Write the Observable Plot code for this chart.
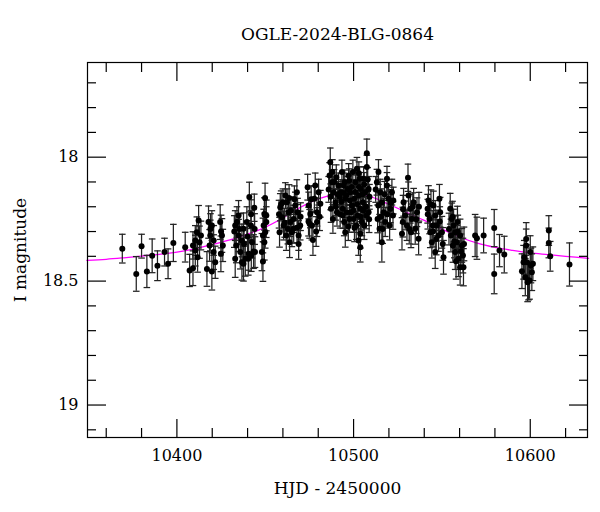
<!DOCTYPE html>
<html>
<head>
<meta charset="utf-8">
<script src="https://cdn.jsdelivr.net/npm/d3@7"></script>
<script src="https://cdn.jsdelivr.net/npm/@observablehq/plot@0.6"></script>
<style>
  html, body { margin: 0; padding: 0; background: #fff; }
  #chart svg { display: block; }
</style>
</head>
<body>
<div id="chart"></div>
<script>
const title = "OGLE-2024-BLG-0864";
const xLabel = "HJD - 2450000";
const yLabel = "I magnitude";

const xMajorTicks = [10400, 10500, 10600];
const xMinorTicks = [10360, 10380, 10420, 10440, 10460, 10480, 10520, 10540, 10560, 10580, 10620];
const yMajorTicks = [18, 18.5, 19];
const yMinorTicks = [17.7, 17.8, 17.9, 18.1, 18.2, 18.3, 18.4, 18.6, 18.7, 18.8, 18.9, 19.1];

// Observations: HJD - 2450000, I magnitude, error
const hjd = [
  10369.1, 10377.0, 10380.0, 10383.0, 10386.0, 10389.0, 10393.0, 10395.0, 10398.0,
  10404.7, 10407.2, 10409.1, 10409.1, 10410.4, 10411.3, 10412.3, 10412.8, 10411.7, 10410.4, 10413.6,
  10417.9, 10418.9, 10419.8, 10420.8, 10417.0, 10419.8, 10421.7, 10424.5, 10425.5, 10424.9, 10426.0, 10420.8, 10418.5, 10419.0, 10425.0,
  10433.0, 10434.0, 10434.9, 10433.6, 10435.9, 10436.8, 10438.7, 10440.6, 10442.5, 10441.0, 10443.8, 10439.6, 10441.9, 10437.7, 10443.4, 10434.9, 10436.8, 10433.0,
  10437.7, 10440.4, 10442.1, 10444.2, 10432.5, 10435.5, 10438.0, 10440.0, 10442.0, 10444.0,
  10449.9, 10449.5, 10450.6, 10449.1, 10448.7, 10449.5, 10448.1, 10448.7, 10450.0, 10450.6,
  10458.5, 10459.5, 10460.4, 10458.1, 10461.4, 10462.3, 10463.2, 10464.2, 10463.8, 10465.1, 10466.1, 10467.0, 10467.9, 10468.3, 10468.9, 10468.9, 10469.8, 10466.1, 10461.9, 10460.0,
  10457.8, 10459.0, 10461.0, 10462.8, 10464.5, 10466.5, 10468.0, 10470.0, 10463.5,
  10474.0, 10474.6, 10475.5, 10476.4, 10477.0, 10477.8, 10478.3, 10479.3, 10480.2, 10481.2, 10475.1, 10479.3, 10476.0, 10478.8, 10480.8, 10474.5,
  10486.8, 10486.4, 10487.8, 10488.7, 10489.7, 10490.6, 10487.2, 10491.5, 10492.1, 10488.3, 10490.2,
  10485.9, 10487.0, 10489.0, 10490.0, 10491.0, 10492.4, 10488.0,
  10493.4, 10494.3, 10495.3, 10496.2, 10495.3, 10497.2, 10498.1, 10499.1, 10500.0, 10501.0, 10501.9, 10502.8, 10503.8, 10503.8, 10504.7, 10505.7, 10506.6, 10507.5, 10507.5, 10508.5, 10508.5,
  10493.9, 10497.7, 10499.6, 10501.5, 10503.4, 10505.3, 10507.2, 10494.7, 10496.6, 10500.4, 10502.3, 10504.1, 10506.0, 10502.8, 10498.5, 10492.8, 10503.8,
  10493.0, 10494.0, 10495.0, 10496.0, 10497.0, 10498.0, 10499.0, 10500.0, 10501.0, 10502.0, 10503.0, 10504.0, 10505.0, 10506.0, 10507.0, 10508.0, 10509.0, 10494.5, 10497.5, 10500.5, 10503.0, 10505.5, 10508.8,
  10514.1, 10513.2, 10515.1, 10516.0, 10517.0, 10517.9, 10516.0, 10518.9, 10519.8, 10520.8, 10521.7, 10513.6, 10514.7, 10520.4, 10518.9, 10522.3,
  10512.5, 10514.0, 10515.5, 10517.5, 10519.0, 10521.0, 10522.5, 10516.5,
  10530.8, 10527.4, 10528.3, 10529.2, 10530.2, 10531.1, 10532.1, 10533.0, 10534.0, 10534.9, 10535.9, 10536.8, 10527.9, 10532.5,
  10528.0, 10531.5, 10533.5, 10535.5, 10537.0,
  10542.4, 10541.9, 10543.0, 10543.4, 10544.3, 10545.2, 10546.2, 10547.1, 10548.1, 10546.2, 10549.0, 10550.0, 10550.9, 10544.9, 10548.6,
  10542.0, 10543.8, 10546.8, 10548.8, 10550.5, 10545.0,
  10554.7, 10555.6, 10556.6, 10555.1, 10557.5, 10558.5, 10557.5, 10559.4, 10560.3, 10561.3, 10562.2, 10560.3, 10556.2, 10558.8, 10561.9,
  10554.0, 10556.0, 10557.0, 10559.0, 10560.8, 10562.5, 10558.0,
  10568.8, 10569.8, 10573.6, 10579.6, 10579.6, 10582.6, 10585.3,
  10595.3, 10596.6, 10597.7, 10598.1, 10597.2, 10599.0, 10600.0, 10600.4, 10600.9, 10601.5, 10599.6, 10596.2, 10598.5, 10597.7,
  10610.5, 10610.5, 10611.3, 10622.2
];
const imag = [
  18.369, 18.471, 18.359, 18.461, 18.398, 18.438, 18.383, 18.430, 18.346,
  18.363, 18.457, 18.448, 18.356, 18.336, 18.303, 18.255, 18.343, 18.404, 18.377, 18.316,
  18.262, 18.316, 18.276, 18.383, 18.451, 18.461, 18.424, 18.262, 18.316, 18.390, 18.356, 18.336, 18.356, 18.290, 18.300,
  18.276, 18.262, 18.316, 18.356, 18.383, 18.424, 18.410, 18.390, 18.343, 18.161, 18.204, 18.262, 18.276, 18.289, 18.381, 18.235, 18.336, 18.410,
  18.430, 18.410, 18.397, 18.383, 18.300, 18.290, 18.350, 18.320, 18.230, 18.290,
  18.165, 18.229, 18.235, 18.276, 18.316, 18.343, 18.383, 18.421, 18.303, 18.262,
  18.202, 18.242, 18.276, 18.303, 18.155, 18.182, 18.222, 18.262, 18.343, 18.303, 18.249, 18.195, 18.141, 18.222, 18.316, 18.350, 18.276, 18.289, 18.316, 18.182,
  18.230, 18.190, 18.265, 18.290, 18.215, 18.170, 18.285, 18.240, 18.165,
  18.121, 18.195, 18.229, 18.276, 18.334, 18.168, 18.114, 18.222, 18.141, 18.188, 18.269, 18.262, 18.170, 18.300, 18.240, 18.260,
  18.020, 18.074, 18.101, 18.141, 18.182, 18.222, 18.208, 18.114, 18.161, 18.249, 18.081,
  18.130, 18.160, 18.100, 18.200, 18.150, 18.230, 18.060,
  18.060, 18.114, 18.168, 18.222, 18.303, 18.074, 18.141, 18.195, 18.249, 18.101, 18.047, 18.155, 18.208, 18.309, 18.262, 18.087, 18.141, 17.984, 18.040, 18.128, 18.222,
  18.208, 18.249, 18.060, 18.276, 18.087, 18.182, 18.235, 18.262, 18.128, 18.168, 18.235, 18.128, 18.276, 18.336, 18.222, 18.141, 18.363,
  18.180, 18.235, 18.100, 18.155, 18.280, 18.175, 18.120, 18.215, 18.140, 18.190, 18.065, 18.240, 18.150, 18.110, 18.200, 18.090, 18.160, 18.145, 18.095, 18.285, 18.120, 18.215, 18.250,
  18.060, 18.101, 18.141, 18.182, 18.222, 18.262, 18.343, 18.114, 18.168, 18.208, 18.141, 18.249, 18.289, 18.276, 18.087, 18.235,
  18.130, 18.195, 18.240, 18.150, 18.230, 18.185, 18.175, 18.290,
  18.083, 18.309, 18.182, 18.235, 18.276, 18.155, 18.208, 18.249, 18.182, 18.289, 18.222, 18.329, 18.262, 18.303,
  18.210, 18.290, 18.200, 18.250, 18.200,
  18.175, 18.208, 18.249, 18.303, 18.343, 18.195, 18.235, 18.276, 18.316, 18.383, 18.222, 18.303, 18.404, 18.276, 18.168,
  18.230, 18.190, 18.330, 18.260, 18.350, 18.300,
  18.208, 18.249, 18.276, 18.316, 18.303, 18.343, 18.383, 18.410, 18.316, 18.356, 18.444, 18.444, 18.356, 18.262, 18.397,
  18.290, 18.240, 18.340, 18.300, 18.380, 18.350, 18.420,
  18.316, 18.327, 18.316, 18.286, 18.471, 18.377, 18.393,
  18.460, 18.404, 18.356, 18.424, 18.484, 18.498, 18.383, 18.437, 18.464, 18.430, 18.498, 18.424, 18.505, 18.330,
  18.296, 18.346, 18.400, 18.433
];
const ierr = [
  0.058, 0.070, 0.048, 0.065, 0.068, 0.060, 0.056, 0.060, 0.075,
  0.060, 0.065, 0.070, 0.055, 0.060, 0.062, 0.060, 0.065, 0.060, 0.062, 0.058,
  0.065, 0.062, 0.060, 0.070, 0.070, 0.075, 0.065, 0.070, 0.068, 0.072, 0.065, 0.060, 0.064, 0.062, 0.066,
  0.060, 0.062, 0.065, 0.070, 0.068, 0.072, 0.070, 0.066, 0.064, 0.060, 0.055, 0.062, 0.060, 0.064, 0.068, 0.060, 0.066, 0.075,
  0.070, 0.066, 0.064, 0.062, 0.064, 0.062, 0.066, 0.064, 0.058, 0.062,
  0.060, 0.065, 0.062, 0.066, 0.070, 0.072, 0.075, 0.080, 0.064, 0.062,
  0.055, 0.056, 0.058, 0.060, 0.052, 0.054, 0.056, 0.058, 0.062, 0.058, 0.055, 0.054, 0.050, 0.056, 0.060, 0.062, 0.058, 0.058, 0.060, 0.054,
  0.056, 0.054, 0.058, 0.060, 0.055, 0.054, 0.060, 0.056, 0.054,
  0.052, 0.054, 0.056, 0.058, 0.062, 0.052, 0.050, 0.056, 0.052, 0.054, 0.058, 0.058, 0.054, 0.060, 0.056, 0.058,
  0.057, 0.052, 0.050, 0.052, 0.054, 0.056, 0.055, 0.050, 0.052, 0.058, 0.050,
  0.052, 0.052, 0.050, 0.054, 0.052, 0.056, 0.050,
  0.048, 0.050, 0.052, 0.054, 0.060, 0.048, 0.050, 0.052, 0.054, 0.048, 0.046, 0.050, 0.052, 0.058, 0.055, 0.048, 0.050, 0.057, 0.048, 0.050, 0.054,
  0.052, 0.054, 0.048, 0.056, 0.048, 0.052, 0.054, 0.055, 0.050, 0.052, 0.054, 0.050, 0.056, 0.060, 0.052, 0.050, 0.060,
  0.050, 0.052, 0.048, 0.050, 0.056, 0.050, 0.048, 0.052, 0.048, 0.050, 0.046, 0.054, 0.050, 0.048, 0.050, 0.048, 0.050, 0.048, 0.048, 0.056, 0.048, 0.052, 0.054,
  0.050, 0.052, 0.052, 0.054, 0.056, 0.058, 0.080, 0.052, 0.054, 0.056, 0.052, 0.056, 0.058, 0.058, 0.050, 0.056,
  0.052, 0.054, 0.056, 0.052, 0.056, 0.054, 0.054, 0.058,
  0.055, 0.065, 0.056, 0.058, 0.060, 0.055, 0.058, 0.060, 0.056, 0.062, 0.058, 0.065, 0.060, 0.062,
  0.056, 0.060, 0.056, 0.058, 0.058,
  0.060, 0.058, 0.060, 0.062, 0.064, 0.058, 0.060, 0.062, 0.064, 0.066, 0.060, 0.064, 0.068, 0.060, 0.058,
  0.060, 0.058, 0.064, 0.060, 0.066, 0.062,
  0.062, 0.064, 0.066, 0.066, 0.066, 0.068, 0.070, 0.072, 0.066, 0.068, 0.075, 0.072, 0.068, 0.064, 0.070,
  0.064, 0.062, 0.066, 0.066, 0.070, 0.068, 0.072,
  0.085, 0.085, 0.070, 0.075, 0.080, 0.065, 0.074,
  0.070, 0.068, 0.066, 0.070, 0.075, 0.078, 0.066, 0.070, 0.074, 0.068, 0.075, 0.068, 0.078, 0.066,
  0.060, 0.060, 0.060, 0.087
];

// Model curve
const modelHjd = [10349, 10360, 10370, 10380, 10390, 10400, 10410, 10420, 10430, 10440, 10450, 10460, 10470, 10480, 10490, 10500, 10510, 10520, 10530, 10540, 10550, 10560, 10570, 10580, 10590, 10600, 10610, 10620, 10633];
const modelMag = [18.416, 18.412, 18.406, 18.399, 18.392, 18.383, 18.370, 18.353, 18.334, 18.310, 18.283, 18.245, 18.202, 18.168, 18.150, 18.144, 18.160, 18.190, 18.223, 18.255, 18.290, 18.322, 18.347, 18.364, 18.376, 18.386, 18.393, 18.400, 18.408];

const obs = hjd.map((t, i) => ({t, m: imag[i], e: ierr[i]}));
const model = modelHjd.map((t, i) => ({t, m: modelMag[i]}));

const capSymbol = { draw(ctx, size) { ctx.moveTo(-3.3, 0); ctx.lineTo(3.3, 0); } };

const font = "DejaVu Serif, serif";
const ink = "#000";
const barInk = "#222";

const tickOnly = (axis, opts) => axis({...opts, fill: "none", label: null, stroke: ink, strokeWidth: 1.2});

const plot = Plot.plot({
  width: 600,
  height: 512,
  marginLeft: 87,
  marginRight: 13,
  marginTop: 62,
  marginBottom: 75,
  style: {fontFamily: font, color: ink, background: "#fff"},
  x: {domain: [10349.4, 10632.4]},
  y: {domain: [17.618, 19.131], reverse: true},
  marks: [
    Plot.line(model, {x: "t", y: "m", stroke: "#ff00ff", strokeWidth: 1.3, curve: "catmull-rom"}),
    Plot.ruleX(obs, {x: "t", y1: d => d.m - d.e, y2: d => d.m + d.e, stroke: barInk, strokeWidth: 1.25}),
    Plot.dot(obs, {x: "t", y: d => d.m - d.e, symbol: capSymbol, stroke: barInk, strokeWidth: 1.25, r: 3}),
    Plot.dot(obs, {x: "t", y: d => d.m + d.e, symbol: capSymbol, stroke: barInk, strokeWidth: 1.25, r: 3}),
    Plot.dot(obs, {x: "t", y: "m", r: 3, fill: ink, stroke: "none"}),
    // inward ticks on all four sides
    tickOnly(Plot.axisX, {anchor: "bottom", ticks: xMajorTicks, tickSize: -18}),
    tickOnly(Plot.axisX, {anchor: "bottom", ticks: xMinorTicks, tickSize: -9}),
    tickOnly(Plot.axisX, {anchor: "top", ticks: xMajorTicks, tickSize: -18}),
    tickOnly(Plot.axisX, {anchor: "top", ticks: xMinorTicks, tickSize: -9}),
    tickOnly(Plot.axisY, {anchor: "left", ticks: yMajorTicks, tickSize: -19}),
    tickOnly(Plot.axisY, {anchor: "left", ticks: yMinorTicks, tickSize: -9}),
    tickOnly(Plot.axisY, {anchor: "right", ticks: yMajorTicks, tickSize: -19}),
    tickOnly(Plot.axisY, {anchor: "right", ticks: yMinorTicks, tickSize: -9}),
    // labels
    Plot.axisX({anchor: "bottom", ticks: xMajorTicks, tickSize: 0, tickPadding: 12, tickFormat: d => String(d), fontSize: 16, fill: ink,
      label: xLabel, labelAnchor: "center", labelArrow: "none", labelOffset: 56}),
    Plot.axisY({anchor: "left", ticks: yMajorTicks, tickSize: 0, tickPadding: 9, tickFormat: d => String(d), fontSize: 16, fill: ink,
      label: yLabel, labelAnchor: "center", labelArrow: "none", labelOffset: 74}),
    Plot.frame({stroke: ink, strokeWidth: 1.2}),
    Plot.text([title], {frameAnchor: "top", dy: -28, fontSize: 17, fill: ink, lineAnchor: "middle"})
  ]
});

plot.querySelectorAll("[aria-label='x-axis label'], [aria-label='y-axis label']").forEach(g => g.setAttribute("font-size", 17));
document.getElementById("chart").appendChild(plot);
</script>
</body>
</html>
